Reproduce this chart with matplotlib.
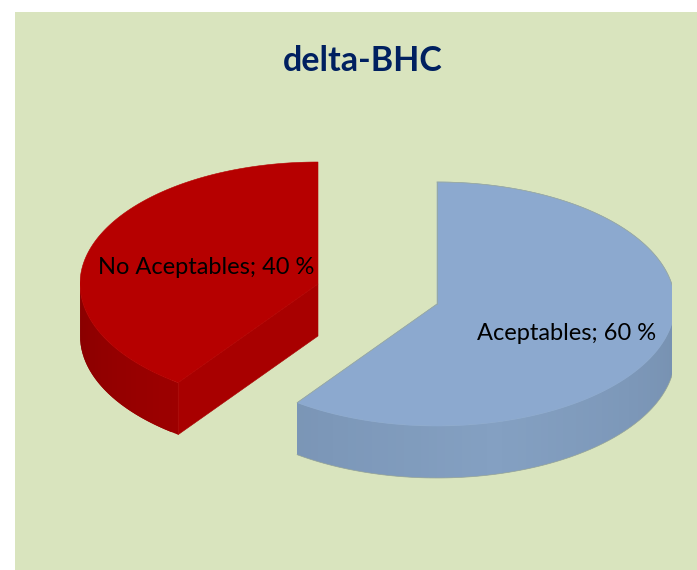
import numpy as np
import matplotlib
matplotlib.use("Agg")
import matplotlib.pyplot as plt
from matplotlib.colors import to_rgb
from matplotlib.patches import Polygon, Rectangle

title = "delta-BHC"
labels = ["Aceptables", "No Aceptables"]
values = [60, 40]

# pie geometry, in pixels of the original picture
centers = [(437, 304), (318, 284)]
rx, ry, depth = 238, 122, 52
top_colors = ["#8CA9CF", "#B60000"]
rim_dark = ["#7690B0", "#880000"]
rim_light = ["#84A0C2", "#9C0000"]
label_pos = [(567, 333), (206, 268)]


def rim_point(c, ang):
    # ang is clockwise from 12 o'clock
    a = np.radians(ang)
    return c[0] + rx * np.sin(a), c[1] - ry * np.cos(a)


fig = plt.figure(figsize=(6.97, 5.70), dpi=100)
ax = fig.add_axes([0, 0, 1, 1])
ax.set_xlim(0, 697)
ax.set_ylim(570, 0)
ax.axis("off")
ax.add_patch(Rectangle((15, 12), 682, 558, fc="#D9E4BE", ec="none"))

# chart keeps the slices inside the plot box, so the widest parts are cut
clip = Rectangle((80, 100), 592, 400, transform=ax.transData)

spans = [(0, values[0] * 3.6), (values[0] * 3.6, 360)]
for i, (start, end) in enumerate(spans):
    c = centers[i]
    angs = np.linspace(start, end, 200)
    xs, ys = rim_point(c, angs)

    # outer wall, only the front half of the rim can be seen
    lo, hi = max(start, 90), min(end, 270)
    for a in np.arange(lo, hi, 2.0):
        # each piece runs under the next one, that hides the seams
        b = min(a + 4.0, hi)
        x0, y0 = rim_point(c, a)
        x1, y1 = rim_point(c, b)
        if i == 0:
            t = 1 - abs(a - 165) / 75
        else:
            t = (270 - a) / 54
        t = np.clip(t, 0, 1)
        col = np.array(to_rgb(rim_dark[i])) * (1 - t) + np.array(to_rgb(rim_light[i])) * t
        p = Polygon([(x0, y0), (x1, y1), (x1, y1 + depth), (x0, y0 + depth)],
                    fc=col, ec="none")
        ax.add_patch(p)
        p.set_clip_path(clip)

    # cut face of the red slice looks towards the viewer
    if i == 1:
        px, py = rim_point(c, start)
        ax.add_patch(Polygon([c, (px, py), (px, py + depth), (c[0], c[1] + depth)],
                             fc="#A80000", ec="#A80000", lw=0.4))

    top = Polygon(np.vstack([[c], np.column_stack([xs, ys])]),
                  fc=top_colors[i], ec=top_colors[i], lw=0.4)
    ax.add_patch(top)
    top.set_clip_path(clip)

    if i == 0:
        # thin grey line along the outside of the blue slice
        bx, by = rim_point(c, np.linspace(90, 216, 100))
        line, = ax.plot(bx, by + depth, color="#9AA898", lw=0.5)
        line.set_clip_path(clip)
        ex, ey = rim_point(c, np.linspace(0, 90, 60))
        line2, = ax.plot(ex, ey, color="#9AA898", lw=0.5)
        line2.set_clip_path(clip)
        px, py = rim_point(c, end)
        ax.plot([c[0], px], [c[1], py], color="#9AA898", lw=0.5)
        ax.plot([c[0], c[0]], [c[1], c[1] - ry], color="#9AA898", lw=0.5)

    ax.text(label_pos[i][0], label_pos[i][1], f"{labels[i]}; {values[i]} %",
            fontsize=17, family="Lato", color="black", ha="center", va="center")

ax.text(363, 61, title, fontsize=24.5, fontweight="bold", family="Lato",
        color="#002060", ha="center", va="center")

fig.savefig("out.png", dpi=100)
